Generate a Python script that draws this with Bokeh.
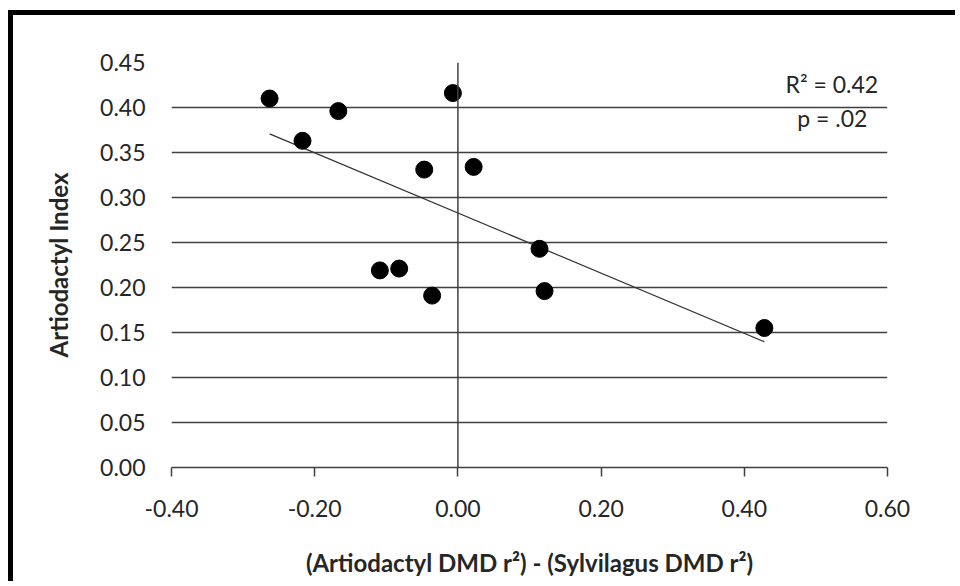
import numpy as np
from bokeh.plotting import figure
from bokeh.models import FixedTicker, NumeralTickFormatter, Span, Label, Range1d
from bokeh.embed import file_html
from bokeh.resources import INLINE

# data
diff_r2 = [-0.263, -0.167, -0.217, -0.007, -0.047, 0.022, -0.109, -0.082, -0.036, 0.114, 0.121, 0.428]
art_index = [0.410, 0.396, 0.363, 0.416, 0.331, 0.334, 0.219, 0.221, 0.191, 0.243, 0.196, 0.155]
x_ticks = [-0.4, -0.2, 0.0, 0.2, 0.4, 0.6]
y_ticks = [0.0, 0.05, 0.10, 0.15, 0.20, 0.25, 0.30, 0.35, 0.40, 0.45]
stat_lines = ["R\u00b2 = 0.42", "p = .02"]
x_title = "(Artiodactyl DMD r\u00b2) - (Sylvilagus DMD r\u00b2)"
y_title = "Artiodactyl Index"

FONT = "Lato"
TXT = "#262626"
LINE = "#404040"

p = figure(width=947, height=571, output_backend="svg", toolbar_location=None,
           x_range=Range1d(-0.4, 0.6), y_range=Range1d(0.0, 0.45),
           min_border_left=158, min_border_right=73, min_border_top=47, min_border_bottom=119,
           margin=(10, 0, 0, 8),
           styles={"border-top": "5px solid black", "border-left": "5px solid black"})
p.outline_line_color = None
p.background_fill_color = "white"
p.border_fill_color = "white"

# axes
xa = p.xaxis[0]
xa.ticker = FixedTicker(ticks=x_ticks)
xa.formatter = NumeralTickFormatter(format="0.00")
xa.axis_line_color = LINE
xa.axis_line_width = 1.5
xa.major_tick_line_color = LINE
xa.major_tick_line_width = 1.5
xa.major_tick_out = 9
xa.major_tick_in = 0
xa.minor_tick_line_color = None
xa.major_label_standoff = 23
xa.major_label_text_font = FONT
xa.major_label_text_font_size = "23px"
xa.major_label_text_color = TXT
xa.axis_label = x_title
xa.axis_label_text_font = FONT
xa.axis_label_text_font_style = "bold"
xa.axis_label_text_font_size = "24px"
xa.axis_label_text_color = TXT
xa.axis_label_standoff = 28

ya = p.yaxis[0]
ya.ticker = FixedTicker(ticks=y_ticks)
ya.formatter = NumeralTickFormatter(format="0.00")
ya.axis_line_color = None
ya.major_tick_line_color = None
ya.minor_tick_line_color = None
ya.major_label_standoff = 20
ya.major_label_text_font = FONT
ya.major_label_text_font_size = "23px"
ya.major_label_text_color = TXT
ya.axis_label = y_title
ya.axis_label_text_font = FONT
ya.axis_label_text_font_style = "bold"
ya.axis_label_text_font_size = "24px"
ya.axis_label_text_color = TXT
ya.axis_label_standoff = 24

p.xgrid.visible = False
p.ygrid.ticker = FixedTicker(ticks=y_ticks)
p.ygrid.grid_line_color = LINE
p.ygrid.grid_line_width = 1.5

# vertical axis line crossing at x = 0
p.add_layout(Span(location=0, dimension="height", line_color=LINE, line_width=1.5))

# linear trend line
slope, intercept = np.polyfit(diff_r2, art_index, 1)
xs = [min(diff_r2), max(diff_r2)]
p.line(xs, [slope * v + intercept for v in xs], line_color="#333333", line_width=1.2)

p.scatter(diff_r2, art_index, size=17, color="black")

p.add_layout(Label(x=0.587, y=0.4264, text=stat_lines[0], text_align="right", text_baseline="middle",
                   text_font=FONT, text_font_size="23px", text_color=TXT))
p.add_layout(Label(x=0.523, y=0.3887, text=stat_lines[1], text_align="center", text_baseline="middle",
                   text_font=FONT, text_font_size="23px", text_color=TXT))

open("out.html", "w").write(file_html(p, INLINE))
